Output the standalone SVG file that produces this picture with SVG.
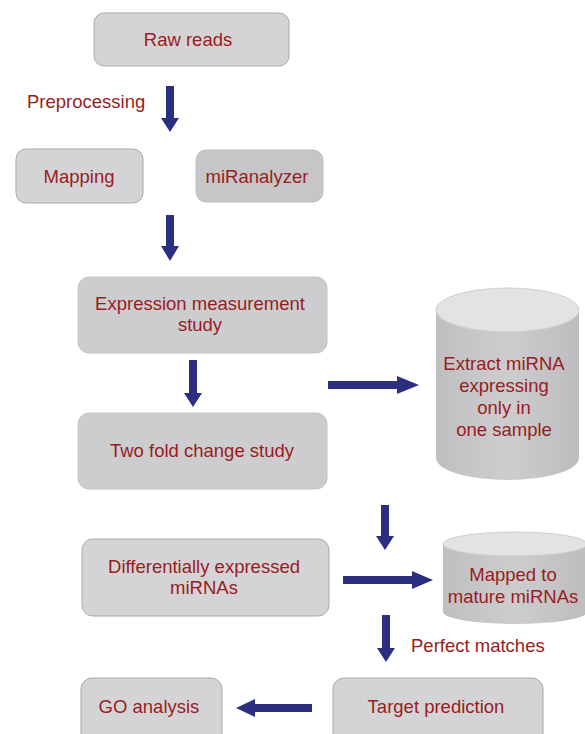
<svg xmlns="http://www.w3.org/2000/svg" width="585" height="734" viewBox="0 0 585 734">
<style>
.box{fill:#d4d4d6;stroke:#a9a9ab;stroke-width:1}
.box2{fill:#c6c6c8;stroke:#bdbdbf;stroke-width:1}
.box3{fill:#cdcdcf;stroke:#c4c4c6;stroke-width:1}
.t{font-family:"Liberation Sans",Arial,sans-serif;font-size:18.5px;fill:#9a1c22}
.m{text-anchor:middle}
.arr{fill:#2c2e80}
.cylbody{fill:url(#cylg)}
.cyltop{fill:#e3e3e5;stroke:#cfcfd1;stroke-width:1}
</style>
<defs>
<linearGradient id="cylg" x1="0" y1="0" x2="1" y2="0">
<stop offset="0" stop-color="#bfbfc1"/>
<stop offset="0.5" stop-color="#cdcdcf"/>
<stop offset="1" stop-color="#bdbdbf"/>
</linearGradient>
</defs>
<rect width="585" height="734" fill="#ffffff"/>

<g id="raw-reads">
<rect class="box" x="94" y="13" width="195" height="53" rx="10"/>
<text class="t m" x="188" y="46">Raw reads</text>
</g>
<g id="preprocessing-label">
<text class="t" x="27" y="108">Preprocessing</text>
</g>
<g id="mapping">
<rect class="box" x="16" y="149" width="127" height="54" rx="10"/>
<text class="t m" x="79" y="183">Mapping</text>
</g>
<g id="miranalyzer">
<rect class="box2" x="196" y="150" width="127" height="52" rx="10"/>
<text class="t m" x="257" y="183">miRanalyzer</text>
</g>
<g id="expression">
<rect class="box3" x="78" y="277" width="249" height="76" rx="11"/>
<text class="t m" x="200" y="310">Expression measurement</text>
<text class="t m" x="200" y="331">study</text>
</g>
<g id="two-fold">
<rect class="box3" x="78" y="413" width="249" height="76" rx="11"/>
<text class="t m" x="202" y="457">Two fold change study</text>
</g>
<g id="extract-cylinder">
<path class="cylbody" d="M436,310 L436,458 A71.5,22 0 0 0 579,458 L579,310 Z"/>
<ellipse class="cyltop" cx="507.5" cy="310" rx="71.5" ry="22"/>
<text class="t m" x="504" y="370">Extract miRNA</text>
<text class="t m" x="504" y="392">expressing</text>
<text class="t m" x="504" y="414">only in</text>
<text class="t m" x="504" y="436">one sample</text>
</g>
<g id="differentially">
<rect class="box" x="82" y="539" width="247" height="77" rx="11"/>
<text class="t m" x="204" y="573">Differentially expressed</text>
<text class="t m" x="204" y="594">miRNAs</text>
</g>
<g id="mapped-cylinder">
<path class="cylbody" d="M443,544 L443,612 A72,12 0 0 0 587,612 L587,544 Z"/>
<ellipse class="cyltop" cx="515" cy="544" rx="72" ry="12"/>
<text class="t m" x="513" y="581">Mapped to</text>
<text class="t m" x="513" y="603">mature miRNAs</text>
</g>
<g id="perfect-matches-label">
<text class="t" x="411" y="652">Perfect matches</text>
</g>
<g id="target-prediction">
<rect class="box" x="333" y="678" width="210" height="70" rx="11"/>
<text class="t m" x="436" y="713">Target prediction</text>
</g>
<g id="go-analysis">
<rect class="box" x="81" y="678" width="141" height="70" rx="11"/>
<text class="t m" x="149" y="713">GO analysis</text>
</g>

<g id="connectors">
<polygon class="arr" points="166,86 174,86 174,118 179,118 170,132 161,118 166,118"/>
<polygon class="arr" points="166,215 174,215 174,246 179,246 170,261 161,246 166,246"/>
<polygon class="arr" points="189,360 197,360 197,393 202,393 193,407 184,393 189,393"/>
<polygon class="arr" points="381,505 389,505 389,536 394,536 385,550 376,536 381,536"/>
<polygon class="arr" points="382,615 390,615 390,648 395,648 386,662 377,648 382,648"/>
<polygon class="arr" points="328,381 397,381 397,376 419,385 397,394 397,389 328,389"/>
<polygon class="arr" points="343,576 412,576 412,571 433,580 412,589 412,584 343,584"/>
<polygon class="arr" points="312,704 255,704 255,699 236,708 255,717 255,712 312,712"/>
</g>
</svg>
